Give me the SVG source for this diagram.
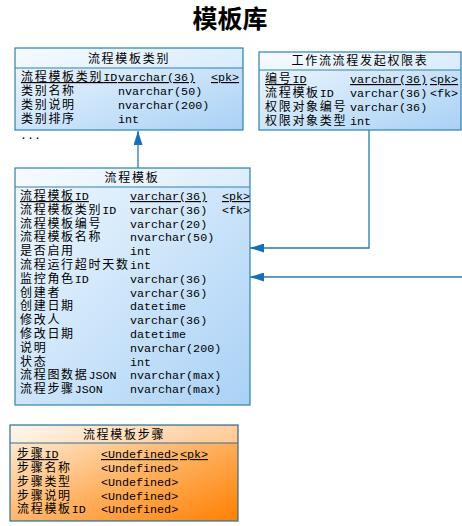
<svg xmlns="http://www.w3.org/2000/svg" width="462" height="526" viewBox="0 0 462 526">
<defs>
<linearGradient id="gb" x1="0" y1="0" x2="1" y2="1">
<stop offset="0" stop-color="#f2f9ff"/>
<stop offset="1" stop-color="#a9d1f5"/>
</linearGradient>
<linearGradient id="go" x1="0" y1="0" x2="1" y2="1">
<stop offset="0" stop-color="#fff4e6"/>
<stop offset="0.55" stop-color="#ffb060"/>
<stop offset="1" stop-color="#ff8000"/>
</linearGradient>
<marker id="ar" markerWidth="14" markerHeight="9" refX="14" refY="4.5" orient="auto" markerUnits="userSpaceOnUse">
<path d="M0,0 L14,4.5 L0,9 Z" fill="#1470b8"/>
</marker>
<clipPath id="c1"><rect x="15" y="48" width="228" height="82"/></clipPath>
<clipPath id="c2"><rect x="259" y="52" width="202" height="78"/></clipPath>
<clipPath id="c3"><rect x="15" y="168" width="235" height="237"/></clipPath>
<clipPath id="c4"><rect x="10" y="425" width="228" height="96"/></clipPath>
</defs>
<style>
.box{fill:url(#gb);stroke:#2e83ad;stroke-width:1.2}
.obox{fill:url(#go);stroke:#2e6f96;stroke-width:1.2}
.sep{stroke:#2e83ad;stroke-width:1}
.hd{fill:#ffffff;opacity:0.35}
.n{font-family:"Liberation Mono","Noto Sans CJK SC",monospace;font-size:12px;letter-spacing:1.7px;fill:#000}
.l{letter-spacing:0px;font-size:11.7px}
.t{font-family:"Liberation Mono","Noto Sans CJK SC",monospace;font-size:11.7px;fill:#000}
.h{font-family:"Liberation Mono","Noto Sans CJK SC",sans-serif;font-size:12px;letter-spacing:1.7px;fill:#000;text-anchor:middle}
.u{text-decoration:underline}
.ln{fill:none;stroke:#2a7aa8;stroke-width:1.3}
.title{font-family:"Noto Sans CJK SC",sans-serif;font-size:25px;font-weight:bold;fill:#000;text-anchor:middle}
</style>
<text class="title" x="230" y="28">模板库</text>

<g id="connectors">
<path class="ln" d="M138,168 L138,131" marker-end="url(#ar)"/>
<path class="ln" d="M369,130 L369,248 L250,248" marker-end="url(#ar)"/>
<path class="ln" d="M462,277 L250,277" marker-end="url(#ar)"/>
</g>

<g id="cat">
<rect class="box" x="15" y="48" width="228" height="82"/>
<rect class="hd" x="16" y="49" width="226" height="19"/>
<line class="sep" x1="15" y1="68" x2="243" y2="68"/>
<text class="h" x="129" y="63">流程模板类别</text>
<g clip-path="url(#c1)">
<text class="n u" x="21" y="81">流程模板类别<tspan class="l">ID</tspan></text>
<text class="t u" x="118" y="81">varchar(36)</text>
<text class="t u" x="211" y="81">&lt;pk&gt;</text>
<text class="n" x="21" y="95">类别名称</text>
<text class="t" x="118" y="95">nvarchar(50)</text>
<text class="n" x="21" y="109">类别说明</text>
<text class="t" x="118" y="109">nvarchar(200)</text>
<text class="n" x="21" y="123">类别排序</text>
<text class="t" x="118" y="123">int</text>
</g>
<text class="t" x="20" y="139">...</text>
</g>

<g id="perm">
<rect class="box" x="259" y="52" width="202" height="78"/>
<rect class="hd" x="260" y="53" width="200" height="17"/>
<line class="sep" x1="259" y1="70" x2="461" y2="70"/>
<text class="h" x="360" y="65">工作流流程发起权限表</text>
<g clip-path="url(#c2)">
<text class="n u" x="265" y="83">编号<tspan class="l">ID</tspan></text>
<text class="t u" x="350" y="83">varchar(36)</text>
<text class="t u" x="430" y="83">&lt;pk&gt;</text>
<text class="n" x="265" y="97">流程模板<tspan class="l">ID</tspan></text>
<text class="t" x="350" y="97">varchar(36)</text>
<text class="t" x="430" y="97">&lt;fk&gt;</text>
<text class="n" x="265" y="111">权限对象编号</text>
<text class="t" x="350" y="111">varchar(36)</text>
<text class="n" x="265" y="125">权限对象类型</text>
<text class="t" x="350" y="125">int</text>
</g>
</g>

<g id="tpl">
<rect class="box" x="15" y="168" width="235" height="237"/>
<rect class="hd" x="16" y="169" width="233" height="18"/>
<line class="sep" x1="15" y1="187" x2="250" y2="187"/>
<text class="h" x="132" y="182">流程模板</text>
<g clip-path="url(#c3)">
<text class="n u" x="20" y="200">流程模板<tspan class="l">ID</tspan></text>
<text class="t u" x="130" y="200">varchar(36)</text>
<text class="t u" x="222" y="200">&lt;pk&gt;</text>
<text class="n" x="20" y="213.8">流程模板类别<tspan class="l">ID</tspan></text>
<text class="t" x="130" y="213.8">varchar(36)</text>
<text class="t" x="222" y="213.8">&lt;fk&gt;</text>
<text class="n" x="20" y="227.6">流程模板编号</text>
<text class="t" x="130" y="227.6">varchar(20)</text>
<text class="n" x="20" y="241.4">流程模板名称</text>
<text class="t" x="130" y="241.4">nvarchar(50)</text>
<text class="n" x="20" y="255.2">是否启用</text>
<text class="t" x="130" y="255.2">int</text>
<text class="n" x="20" y="269">流程运行超时天数</text>
<text class="t" x="130" y="269">int</text>
<text class="n" x="20" y="282.8">监控角色<tspan class="l">ID</tspan></text>
<text class="t" x="130" y="282.8">varchar(36)</text>
<text class="n" x="20" y="296.6">创建者</text>
<text class="t" x="130" y="296.6">varchar(36)</text>
<text class="n" x="20" y="310.4">创建日期</text>
<text class="t" x="130" y="310.4">datetime</text>
<text class="n" x="20" y="324.2">修改人</text>
<text class="t" x="130" y="324.2">varchar(36)</text>
<text class="n" x="20" y="338">修改日期</text>
<text class="t" x="130" y="338">datetime</text>
<text class="n" x="20" y="351.8">说明</text>
<text class="t" x="130" y="351.8">nvarchar(200)</text>
<text class="n" x="20" y="365.6">状态</text>
<text class="t" x="130" y="365.6">int</text>
<text class="n" x="20" y="379.4">流程图数据<tspan class="l">JSON</tspan></text>
<text class="t" x="130" y="379.4">nvarchar(max)</text>
<text class="n" x="20" y="393.2">流程步骤<tspan class="l">JSON</tspan></text>
<text class="t" x="130" y="393.2">nvarchar(max)</text>
</g>
</g>

<g id="step">
<rect class="obox" x="10" y="425" width="228" height="96"/>
<rect class="hd" x="11" y="426" width="226" height="17"/>
<line x1="10" y1="443" x2="238" y2="443" stroke="#2e6f96" stroke-width="1"/>
<text class="h" x="124" y="439">流程模板步骤</text>
<g clip-path="url(#c4)">
<text class="n u" x="17" y="458">步骤<tspan class="l">ID</tspan></text>
<text class="t u" x="101" y="458">&lt;Undefined&gt;</text>
<text class="t u" x="180" y="458">&lt;pk&gt;</text>
<text class="n" x="17" y="472">步骤名称</text>
<text class="t" x="101" y="472">&lt;Undefined&gt;</text>
<text class="n" x="17" y="486">步骤类型</text>
<text class="t" x="101" y="486">&lt;Undefined&gt;</text>
<text class="n" x="17" y="499.5">步骤说明</text>
<text class="t" x="101" y="499.5">&lt;Undefined&gt;</text>
<text class="n" x="17" y="513">流程模板<tspan class="l">ID</tspan></text>
<text class="t" x="101" y="513">&lt;Undefined&gt;</text>
</g>
</g>
</svg>
